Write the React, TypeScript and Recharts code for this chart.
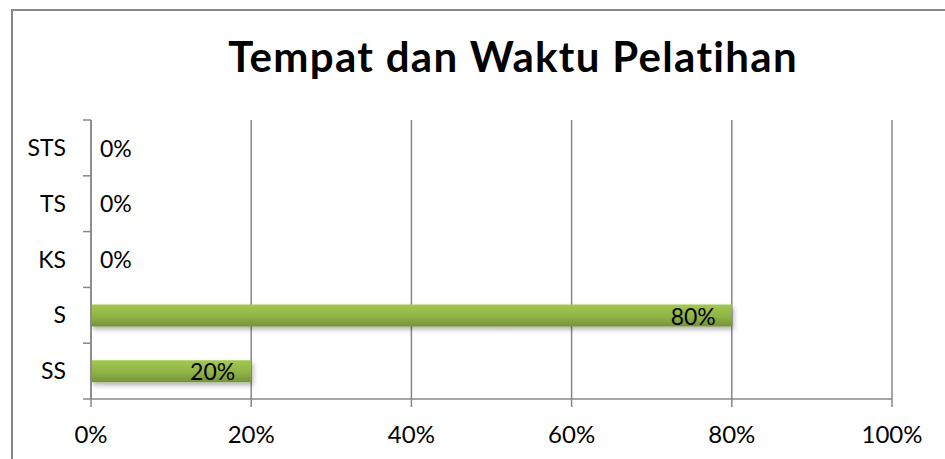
import React from 'react';
import { BarChart, Bar, XAxis, YAxis, CartesianGrid, LabelList } from 'recharts';

const categories = ['STS', 'TS', 'KS', 'S', 'SS'];
const values = [0, 0, 0, 0.8, 0.2];
const xTicks = [0, 0.2, 0.4, 0.6, 0.8, 1];
const title = 'Tempat dan Waktu Pelatihan';

const data = categories.map((c, i) => ({ name: c, value: values[i] }));

const FONT = 'Lato, "Open Sans", sans-serif';
const AXIS = '#878787';
const pct = (v: number) => `${Math.round(v * 100)}%`;
const Y_MARGIN = 25;

const YTick = (props: any) => {
  const { x, y, payload, index } = props;
  const half = payload && typeof payload.offset === 'number' ? payload.offset : 0;
  const ax = x + Y_MARGIN;
  const v = values[index];
  return (
    <g>
      <line x1={ax - 8} x2={ax} y1={y - half} y2={y - half} stroke={AXIS} strokeWidth={1.5} />
      {index === categories.length - 1 && (
        <line x1={ax - 8} x2={ax} y1={y + half} y2={y + half} stroke={AXIS} strokeWidth={1.5} />
      )}
      <text x={x} y={y} dy="0.35em" textAnchor="end" fontFamily={FONT} fontSize={23} fill="#000">
        {payload.value}
      </text>
      {!v && (
        <text x={ax + 9} y={y} dy="0.38em" textAnchor="start" fontFamily={FONT} fontSize={23} fill="#000">
          {pct(v)}
        </text>
      )}
    </g>
  );
};

const ValueLabel = (props: any) => {
  const { x, y, width, height, value } = props;
  if (!value) return null;
  const cy = y + height / 2;
  return (
    <text x={x + width - 16} y={cy} dy="0.4em" textAnchor="end" fontFamily={FONT} fontSize={23} fill="#000">
      {pct(value)}
    </text>
  );
};

export default function App() {
  return (
    <div style={{ position: 'fixed', left: 0, top: 0, width: 945, height: 459, overflow: 'hidden', background: '#fff' }}>
      <div style={{ position: 'absolute', left: 11, top: 9, width: 1000, height: 1000, border: `2px solid ${AXIS}` }} />
      <div
        style={{
          position: 'absolute', left: 0, top: 35, width: 1026, textAlign: 'center',
          fontFamily: FONT, fontWeight: 700, fontSize: 42, lineHeight: '42px', letterSpacing: '1.3px', color: '#000',
        }}
      >
        {title}
      </div>
      <div style={{ position: 'absolute', left: 0, top: 0 }}>
        <BarChart
          width={945}
          height={459}
          data={data}
          layout="vertical"
          margin={{ top: 120, right: 53, bottom: 0, left: 11 }}
        >
          <defs>
            <linearGradient id="barGrad" x1="0" y1="0" x2="0" y2="1">
              <stop offset="0%" stopColor="#a2c850" />
              <stop offset="55%" stopColor="#8fb345" />
              <stop offset="100%" stopColor="#75933a" />
            </linearGradient>
            <filter id="barShadow" x="-5%" y="-30%" width="115%" height="190%">
              <feDropShadow dx="2" dy="3" stdDeviation="2.5" floodColor="#000" floodOpacity="0.3" />
            </filter>
          </defs>
          <CartesianGrid horizontal={false} vertical={true} stroke={AXIS} strokeWidth={1.5} />
          <XAxis
            type="number"
            domain={[0, 1]}
            ticks={xTicks}
            tickFormatter={pct}
            height={60}
            axisLine={{ stroke: AXIS, strokeWidth: 1.5 }}
            tickLine={{ stroke: AXIS, strokeWidth: 1.5 }}
            tickSize={8}
            tickMargin={19}
            tick={{ fontFamily: FONT, fontSize: 24, fill: '#000' }}
            interval={0}
          />
          <YAxis
            type="category"
            dataKey="name"
            width={80}
            axisLine={{ stroke: AXIS, strokeWidth: 1.5 }}
            tickLine={false}
            tickSize={0}
            tickMargin={Y_MARGIN}
            tick={<YTick />}
            interval={0}
          />
          <Bar dataKey="value" fill="url(#barGrad)" barSize={22} isAnimationActive={false} filter="url(#barShadow)">
            <LabelList dataKey="value" content={<ValueLabel />} />
          </Bar>
        </BarChart>
      </div>
    </div>
  );
}
